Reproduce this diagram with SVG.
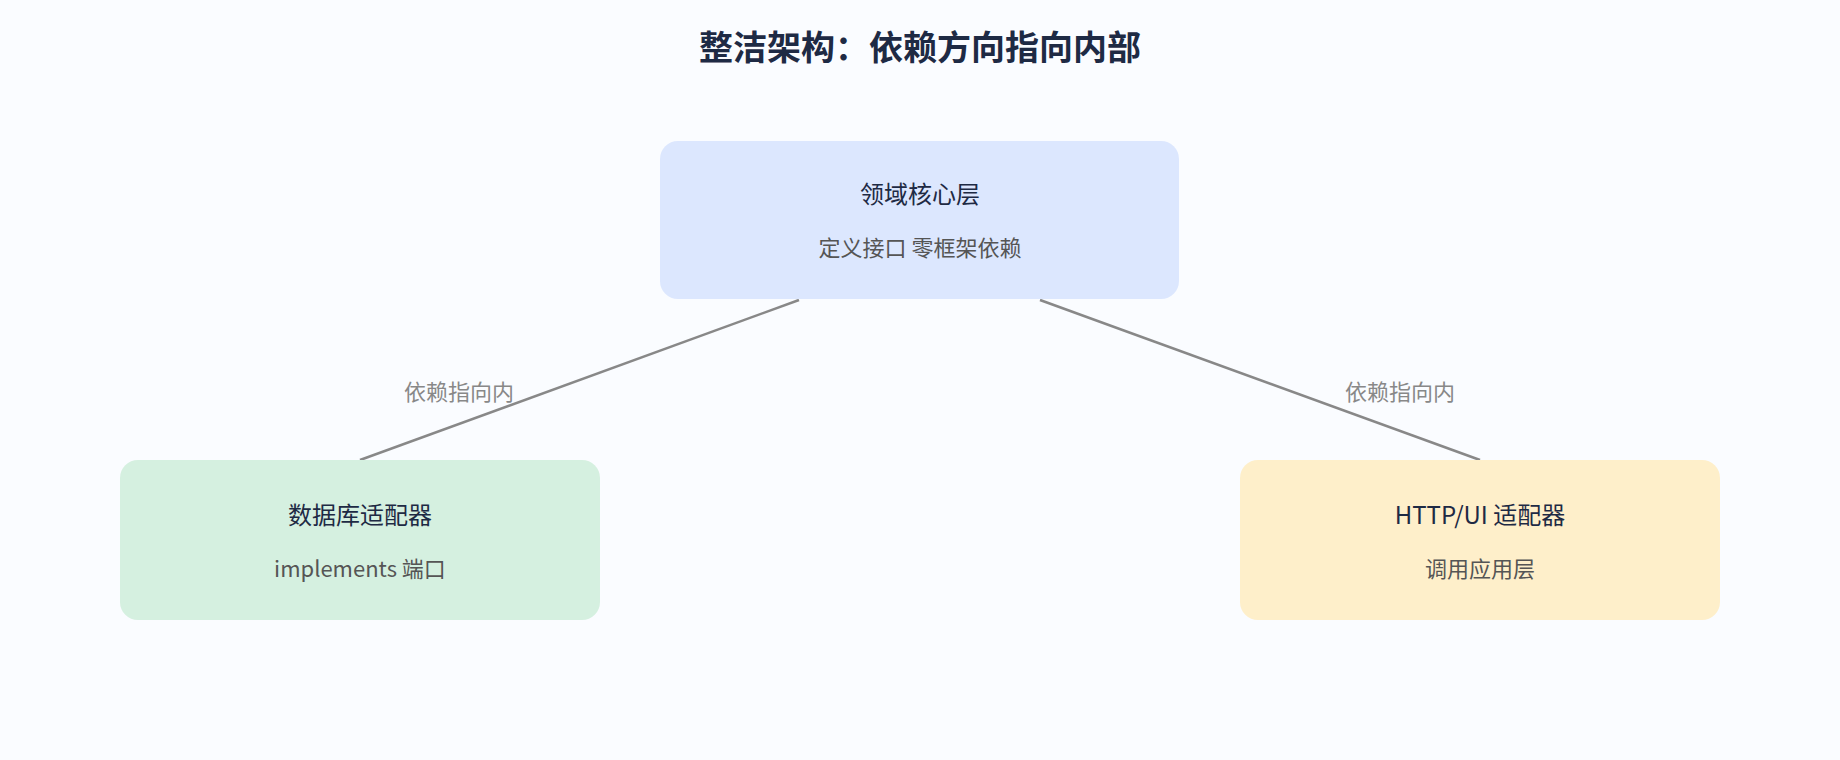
<svg xmlns="http://www.w3.org/2000/svg" width="1840" height="760" viewBox="0 0 1840 760">
<style>
text{font-family:"Noto Sans CJK SC","Liberation Sans",sans-serif;text-anchor:middle}
.t{font-size:24px;fill:#1e2a44}
.s{font-size:22px;fill:#555}
.l{font-size:22px;fill:#888}
.c{stroke:#888;stroke-width:2.5;fill:none}
</style>
<rect width="1840" height="760" fill="#fafcff"/>
<text x="920" y="60" font-size="34" font-weight="bold" fill="#1e2a44">整洁架构：依赖方向指向内部</text>
<g id="connectors">
<line class="c" x1="799" y1="300" x2="360" y2="460"/>
<line class="c" x1="1040" y1="300" x2="1480" y2="460"/>
<text class="l" x="459" y="400">依赖指向内</text>
<text class="l" x="1400" y="400">依赖指向内</text>
</g>
<g id="core">
<rect x="660" y="141" width="519" height="158" rx="18" fill="#dce7fe"/>
<text class="t" x="920" y="203">领域核心层</text>
<text class="s" x="920" y="256">定义接口 零框架依赖</text>
</g>
<g id="db">
<rect x="120" y="460" width="480" height="160" rx="18" fill="#d5f0e0"/>
<text class="t" x="360" y="524">数据库适配器</text>
<text class="s" x="360" y="577">implements 端口</text>
</g>
<g id="http">
<rect x="1240" y="460" width="480" height="160" rx="18" fill="#feefca"/>
<text class="t" x="1480" y="524">HTTP/UI 适配器</text>
<text class="s" x="1480" y="577">调用应用层</text>
</g>
</svg>
